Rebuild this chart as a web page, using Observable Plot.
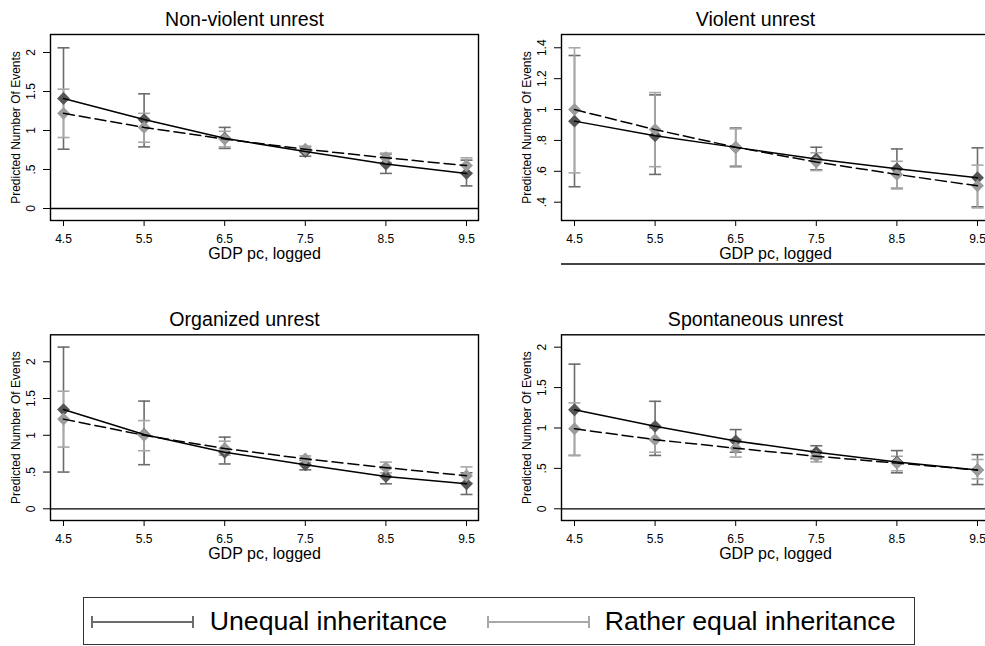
<!DOCTYPE html>
<html><head><meta charset="utf-8">
<script src="https://cdn.jsdelivr.net/npm/d3@7"></script>
<script src="https://cdn.jsdelivr.net/npm/@observablehq/plot@0.6"></script>
<style>
html,body{margin:0;padding:0;background:#fff;}
#root{position:relative;width:985px;height:646px;overflow:hidden;font-family:"Liberation Sans",Arial,Helvetica,sans-serif;background:#fff;}
.panel{position:absolute;}
.panel svg{max-width:none !important;}
.deco{position:absolute;}
#legend{position:absolute;left:83px;top:597px;width:830px;height:46px;border:1.3px solid #333;box-sizing:content-box;}
.lt{position:absolute;font-size:26.7px;white-space:nowrap;line-height:1;color:#000;}
</style></head><body><div id="root"></div>
<script>
const gdp = [4.5, 5.5, 6.5, 7.5, 8.5, 9.5];
const titles = ["Non-violent unrest", "Violent unrest", "Organized unrest", "Spontaneous unrest"];
const seriesNames = ["Unequal inheritance", "Rather equal inheritance"];
const xLabel = "GDP pc, logged";
const yLabel = "Predicted Number Of Events";

// Non-violent unrest
const nvUnequal = [1.41, 1.14, 0.90, 0.73, 0.57, 0.45];
const nvUnequalLo = [0.76, 0.79, 0.77, 0.67, 0.45, 0.29];
const nvUnequalHi = [2.06, 1.47, 1.04, 0.79, 0.70, 0.62];
const nvEqual = [1.22, 1.04, 0.89, 0.76, 0.65, 0.55];
const nvEqualLo = [0.91, 0.85, 0.79, 0.72, 0.59, 0.46];
const nvEqualHi = [1.53, 1.22, 0.99, 0.80, 0.71, 0.65];

// Violent unrest
const vUnequal = [0.925, 0.83, 0.755, 0.68, 0.616, 0.558];
const vUnequalLo = [0.50, 0.58, 0.63, 0.61, 0.49, 0.37];
const vUnequalHi = [1.35, 1.095, 0.88, 0.756, 0.745, 0.752];
const vEqual = [1.00, 0.87, 0.756, 0.66, 0.58, 0.506];
const vEqualLo = [0.59, 0.63, 0.635, 0.605, 0.486, 0.363];
const vEqualHi = [1.40, 1.11, 0.875, 0.72, 0.665, 0.64];

// Organized unrest
const oUnequal = [1.35, 1.01, 0.77, 0.60, 0.44, 0.34];
const oUnequalLo = [0.50, 0.60, 0.61, 0.53, 0.34, 0.195];
const oUnequalHi = [2.20, 1.465, 0.975, 0.66, 0.55, 0.49];
const oEqual = [1.22, 1.00, 0.82, 0.68, 0.56, 0.45];
const oEqualLo = [0.84, 0.79, 0.73, 0.63, 0.49, 0.35];
const oEqualHi = [1.60, 1.20, 0.92, 0.72, 0.635, 0.57];

// Spontaneous unrest
const sUnequal = [1.225, 1.02, 0.84, 0.70, 0.58, 0.48];
const sUnequalLo = [0.66, 0.66, 0.70, 0.62, 0.445, 0.30];
const sUnequalHi = [1.79, 1.33, 0.98, 0.78, 0.72, 0.67];
const sEqual = [0.99, 0.855, 0.75, 0.65, 0.565, 0.48];
const sEqualLo = [0.66, 0.70, 0.64, 0.58, 0.47, 0.37];
const sEqualHi = [1.31, 1.00, 0.86, 0.72, 0.65, 0.61];

const yTicksA = [0, 0.5, 1, 1.5, 2];
const yTickLabelsA = ["0", ".5", "1", "1.5", "2"];
const yTicksB = [0.4, 0.6, 0.8, 1.0, 1.2, 1.4];
const yTickLabelsB = [".4", ".6", ".8", "1", "1.2", "1.4"];

const FONT = '"Liberation Sans", Arial, Helvetica, sans-serif';
const darkMarker = "#565656", lightMarker = "#9c9c9c";
const darkBar = "#6c6c6c", lightBar = "#a8a8a8";

const capSymbol = {
  draw(context, size) {
    const w = Math.sqrt(size / Math.PI);
    context.moveTo(-w, 0);
    context.lineTo(w, 0);
  }
};

function makePanel(cfg) {
  const data = gdp.map((x, i) => ({
    x,
    ue: cfg.ue[i], ul: cfg.ul[i], uh: cfg.uh[i],
    ee: cfg.ee[i], el: cfg.el[i], eh: cfg.eh[i]
  }));
  const marks = [];
  if (cfg.zero) marks.push(Plot.ruleY([0], {stroke: "#000", strokeWidth: 1.3}));
  marks.push(
    Plot.ruleX(data, {x: "x", y1: "ul", y2: "uh", stroke: darkBar, strokeWidth: 1.6}),
    Plot.dot(data, {x: "x", y: "ul", symbol: capSymbol, r: 6, stroke: darkBar, strokeWidth: 1.6}),
    Plot.dot(data, {x: "x", y: "uh", symbol: capSymbol, r: 6, stroke: darkBar, strokeWidth: 1.6}),
    Plot.ruleX(data, {x: "x", y1: "el", y2: "eh", stroke: lightBar, strokeWidth: 1.6}),
    Plot.dot(data, {x: "x", y: "el", symbol: capSymbol, r: 6, stroke: lightBar, strokeWidth: 1.6}),
    Plot.dot(data, {x: "x", y: "eh", symbol: capSymbol, r: 6, stroke: lightBar, strokeWidth: 1.6}),
    Plot.dot(data, {x: "x", y: "ue", symbol: "diamond2", r: 5.8, fill: darkMarker, stroke: "none"}),
    Plot.dot(data, {x: "x", y: "ee", symbol: "diamond2", r: 5.8, fill: lightMarker, stroke: "none"}),
    Plot.line(data, {x: "x", y: "ue", stroke: "#000", strokeWidth: 1.5}),
    Plot.line(data, {x: "x", y: "ee", stroke: "#000", strokeWidth: 1.5, strokeDasharray: "11,5"}),
    Plot.frame({stroke: "#000", strokeWidth: 1.4}),
    Plot.axisX(gdp, {tickSize: 6, tickPadding: 8, fontSize: 12, label: null, tickFormat: d => d.toFixed(1)}),
    Plot.axisY(cfg.yticks, {tickSize: 7, tickFormat: () => "", label: null}),
    Plot.text(cfg.yticks, {y: d => d, text: (d, i) => cfg.ylabels[i], frameAnchor: "left", dx: -19.3, rotate: -90, textAnchor: "middle", lineAnchor: "middle", fontSize: 12, fill: "#000"}),
    Plot.text([yLabel], {frameAnchor: "left", dx: -34.3, rotate: -90, textAnchor: "middle", lineAnchor: "middle", fontSize: 12, fill: "#000"}),
    Plot.text([xLabel], {frameAnchor: "bottom", dy: 38, lineAnchor: "bottom", textAnchor: "middle", fontSize: 16, fill: "#000"}),
    Plot.text([cfg.title], {frameAnchor: "top", dx: -20, dy: -9, lineAnchor: "bottom", textAnchor: "middle", fontSize: 19.6, fill: "#000"})
  );
  const svg = Plot.plot({
    width: cfg.w, height: cfg.h,
    marginLeft: cfg.ml, marginRight: cfg.mr, marginTop: cfg.mt, marginBottom: cfg.mb,
    x: {domain: [4.3387, 9.6489]},
    y: {domain: cfg.ydom},
    style: {fontFamily: FONT, background: "transparent", overflow: "visible", color: "#000", maxWidth: "none"},
    marks
  });
  svg.style.maxWidth = "none";
  svg.style.width = cfg.w + "px";
  svg.style.height = cfg.h + "px";
  const wrap = document.createElement("div");
  wrap.className = "panel";
  wrap.style.left = cfg.left + "px";
  wrap.style.top = cfg.top + "px";
  wrap.style.width = cfg.w + "px";
  wrap.style.height = cfg.h + "px";
  wrap.appendChild(svg);
  return wrap;
}

const root = document.getElementById("root");
const panels = [
  {title: titles[0], left: 0, top: 0, w: 490, h: 270, ml: 50, mr: 12, mt: 34, mb: 50,
   ydom: [-0.1538, 2.2308], yticks: yTicksA, ylabels: yTickLabelsA, zero: true,
   ue: nvUnequal, ul: nvUnequalLo, uh: nvUnequalHi, ee: nvEqual, el: nvEqualLo, eh: nvEqualHi},
  {title: titles[1], left: 490, top: 0, w: 510, h: 270, ml: 71, mr: 11, mt: 34, mb: 50,
   ydom: [0.2815, 1.486], yticks: yTicksB, ylabels: yTickLabelsB, zero: false,
   ue: vUnequal, ul: vUnequalLo, uh: vUnequalHi, ee: vEqual, el: vEqualLo, eh: vEqualHi},
  {title: titles[2], left: 0, top: 280, w: 490, h: 290, ml: 50, mr: 12, mt: 54.3, mb: 50,
   ydom: [-0.159, 2.367], yticks: yTicksA, ylabels: yTickLabelsA, zero: true,
   ue: oUnequal, ul: oUnequalLo, uh: oUnequalHi, ee: oEqual, el: oEqualLo, eh: oEqualHi},
  {title: titles[3], left: 490, top: 280, w: 510, h: 290, ml: 71, mr: 11, mt: 54.3, mb: 50,
   ydom: [-0.145, 2.153], yticks: yTicksA, ylabels: yTickLabelsA, zero: true,
   ue: sUnequal, ul: sUnequalLo, uh: sUnequalHi, ee: sEqual, el: sEqualLo, eh: sEqualHi}
];
panels.forEach(p => root.appendChild(makePanel(p)));

// stray rule under the violent-unrest panel (present in the original graph)
const deco = document.createElement("div");
deco.className = "deco";
deco.style.cssText = "left:561px;top:263px;width:430px;height:2.4px;background:#444;";
root.appendChild(deco);

// legend
const legend = document.createElement("div");
legend.id = "legend";
const glyph = (x, color) => {
  const ns = "http://www.w3.org/2000/svg";
  const s = document.createElementNS(ns, "svg");
  s.setAttribute("width", "110"); s.setAttribute("height", "20");
  s.style.position = "absolute"; s.style.left = (x - 83 - 1.3 - 2) + "px"; s.style.top = (622 - 597 - 1.3 - 10) + "px";
  s.innerHTML = `<g stroke="${color}" stroke-width="2" fill="none">
    <line x1="2" y1="10" x2="${2 + 101}" y2="10"/>
    <line x1="2" y1="4" x2="2" y2="16"/>
    <line x1="${2 + 101}" y1="4" x2="${2 + 101}" y2="16"/></g>`;
  return s;
};
legend.appendChild(glyph(92, darkBar));
legend.appendChild(glyph(488, lightBar));
[[210, seriesNames[0]], [605, seriesNames[1]]].forEach(([x, t]) => {
  const d = document.createElement("div");
  d.className = "lt";
  d.style.left = (x - 83 - 1.3) + "px";
  d.style.top = (608 - 597 - 1.3) + "px";
  d.textContent = t;
  legend.appendChild(d);
});
root.appendChild(legend);
</script>
</body></html>
